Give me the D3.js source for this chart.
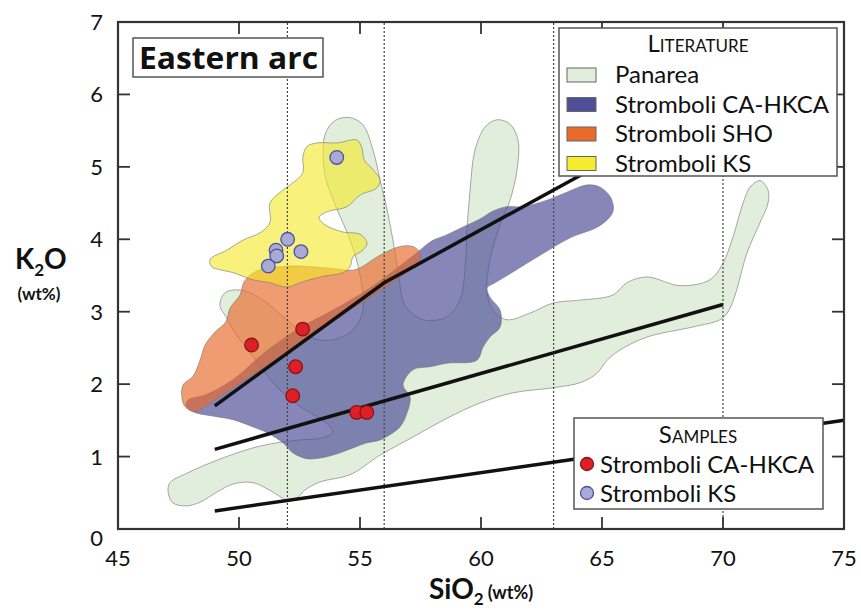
<!DOCTYPE html>
<html>
<head>
<meta charset="utf-8">
<script src="https://cdn.jsdelivr.net/npm/d3@7"></script>
<style>
  body { margin: 0; background: #fff; }
  svg { display: block; font-family: Lato, "Open Sans", sans-serif; }
</style>
</head>
<body>
<div id="chart"></div>
<script>
// K2O vs SiO2 - Eastern arc (Panarea / Stromboli)

const xTicks = [45, 50, 55, 60, 65, 70, 75];
const yTicks = [0, 1, 2, 3, 4, 5, 6, 7];
const dividers = [52, 56, 63, 70];

// series boundary lines [SiO2, K2O]
const lineSHO = [[49, 1.7], [56, 3.4], [66, 5.23]];
const lineHKCA = [[49, 1.1], [70, 3.1]];
const lineCA = [[49, 0.25], [75, 1.5]];

// literature fields, outlines as [SiO2, K2O]
const panarea = [
  [47.07, 0.51], [47.27, 0.36], [47.85, 0.32], [48.39, 0.37], [49.09, 0.51], [49.75, 0.62],
  [50.58, 0.64], [51.40, 0.51], [51.98, 0.40], [52.40, 0.43], [52.73, 0.54], [53.35, 0.65],
  [54.59, 0.75], [55.83, 1.02], [57.19, 1.27], [58.60, 1.53], [59.96, 1.74], [61.32, 1.88],
  [62.98, 1.95], [64.09, 2.02], [64.79, 2.15], [65.21, 2.33], [65.74, 2.47], [66.86, 2.65],
  [68.76, 2.79], [69.88, 2.89], [70.21, 3.00], [70.50, 3.23], [70.99, 3.81], [71.53, 4.23],
  [71.86, 4.50], [71.86, 4.68], [71.53, 4.81], [71.12, 4.72], [70.83, 4.50], [70.41, 4.03],
  [70.00, 3.67], [69.46, 3.44], [68.22, 3.36], [66.86, 3.48], [66.03, 3.40], [65.45, 3.23],
  [64.09, 3.16], [62.98, 3.12], [62.02, 2.98], [61.07, 2.89], [60.50, 3.02], [60.25, 3.26],
  [60.37, 3.72], [60.79, 4.20], [61.20, 4.54], [61.49, 4.96], [61.53, 5.37], [61.20, 5.59],
  [60.66, 5.65], [60.17, 5.55], [59.75, 5.23], [59.55, 4.68], [59.42, 4.13], [59.34, 3.58],
  [59.13, 3.16], [58.60, 2.93], [57.60, 2.89], [56.86, 3.09], [56.57, 3.58], [56.36, 3.99],
  [56.12, 4.41], [55.83, 4.82], [55.54, 5.23], [55.12, 5.58], [54.59, 5.68], [53.97, 5.64],
  [53.55, 5.44], [53.55, 4.89], [53.97, 4.48], [54.59, 3.99], [55.00, 3.51], [55.12, 3.02],
  [54.71, 2.75], [53.88, 2.61], [52.93, 2.65], [51.90, 2.91], [50.87, 3.19], [50.04, 3.30],
  [49.42, 3.26], [49.21, 3.09], [49.50, 2.91], [49.83, 2.71], [50.58, 2.38], [51.57, 1.96],
  [52.52, 1.69], [53.55, 1.48], [53.88, 1.34], [53.47, 1.26], [52.52, 1.23], [51.57, 1.19],
  [50.58, 1.12], [49.09, 0.95], [47.85, 0.77], [47.15, 0.64]
];

const stromboliHKCA = [
  [47.81, 1.70], [48.10, 1.62], [49.09, 1.55], [49.75, 1.51], [50.58, 1.41], [51.16, 1.33],
  [51.82, 1.19], [52.23, 1.05], [52.81, 0.97], [53.35, 0.98], [53.88, 1.02], [54.71, 1.12],
  [55.29, 1.19], [55.83, 1.23], [56.65, 1.41], [56.94, 1.60], [57.07, 1.82], [56.78, 1.99],
  [57.19, 2.20], [57.89, 2.24], [58.60, 2.29], [59.83, 2.33], [60.08, 2.51], [60.37, 2.65],
  [60.79, 2.79], [60.79, 3.02], [60.37, 3.20], [60.25, 3.33], [60.58, 3.40], [61.32, 3.55],
  [62.44, 3.78], [63.68, 4.02], [64.92, 4.19], [65.45, 4.38], [65.37, 4.57], [64.92, 4.72],
  [64.38, 4.75], [63.55, 4.65], [62.73, 4.54], [61.74, 4.45], [61.07, 4.45], [60.50, 4.39],
  [59.96, 4.28], [59.26, 4.17], [58.51, 4.05], [57.98, 3.98], [57.48, 3.85], [56.65, 3.63],
  [55.29, 3.30], [53.76, 3.00], [52.52, 2.78], [51.07, 2.44], [49.75, 2.06], [48.60, 1.85],
  [47.89, 1.78]
];

const stromboliSHO = [
  [47.64, 1.82], [47.69, 1.99], [48.10, 2.11], [48.39, 2.33], [48.60, 2.54], [49.01, 2.72],
  [49.46, 2.86], [49.63, 3.05], [50.04, 3.23], [50.21, 3.41], [50.66, 3.55], [52.11, 3.63],
  [53.76, 3.60], [54.79, 3.58], [55.83, 3.78], [56.65, 3.90], [57.19, 3.90], [57.48, 3.81],
  [57.40, 3.67], [56.65, 3.48], [55.41, 3.20], [53.76, 2.85], [52.11, 2.47], [50.45, 2.10],
  [49.01, 1.78], [48.18, 1.62], [47.77, 1.69]
];

const stromboliKS = [
  [52.81, 5.28], [53.22, 5.33], [54.05, 5.33], [54.88, 5.37], [55.08, 5.26], [55.17, 5.10],
  [55.54, 4.96], [55.83, 4.82], [55.70, 4.71], [55.00, 4.61], [54.46, 4.45], [53.64, 4.38],
  [53.31, 4.30], [53.55, 4.20], [54.30, 4.10], [55.00, 4.07], [55.29, 3.95], [55.12, 3.85],
  [54.71, 3.76], [54.59, 3.62], [54.30, 3.54], [53.35, 3.48], [52.52, 3.40], [51.98, 3.34],
  [51.28, 3.40], [50.58, 3.44], [49.75, 3.54], [49.21, 3.58], [48.88, 3.62], [48.80, 3.72],
  [49.50, 3.85], [50.17, 3.99], [50.87, 4.09], [51.28, 4.23], [51.28, 4.50], [51.82, 4.68],
  [52.23, 4.78], [52.64, 4.92], [52.64, 5.14]
];

// samples
const samplesHKCA = [[50.52, 2.54], [52.63, 2.76], [52.34, 2.24], [52.22, 1.84], [54.86, 1.61], [55.28, 1.61]];
const samplesKS = [[54.04, 5.13], [52.01, 4.00], [51.53, 3.85], [51.56, 3.77], [52.56, 3.83], [51.21, 3.63]];

const fields = [
  { name: 'Panarea', pts: panarea, fill: '#e1eedb', swatch: '#e1eedb', opacity: 1 },
  { name: 'Stromboli CA-HKCA', pts: stromboliHKCA, fill: '#4d4d96', swatch: '#4f4f98', opacity: 0.68 },
  { name: 'Stromboli SHO', pts: stromboliSHO, fill: '#e8682a', swatch: '#e86b2c', opacity: 0.66 },
  { name: 'Stromboli KS', pts: stromboliKS, fill: '#f4ea25', swatch: '#f6ec2e', opacity: 0.6 }
];
const samples = [
  { name: 'Stromboli CA-HKCA', pts: samplesHKCA, fill: '#dd2026', stroke: '#8a1515' },
  { name: 'Stromboli KS', pts: samplesKS, fill: '#aaaad6', stroke: '#4b51a3' }
];

const width = 861, height = 613;
const margin = { top: 22, right: 17, bottom: 84, left: 118 };

const svg = d3.select('#chart').append('svg')
  .attr('width', width)
  .attr('height', height);

const x = d3.scaleLinear().domain([45, 75]).range([margin.left, width - margin.right]);
const y = d3.scaleLinear().domain([0, 7]).range([height - margin.bottom, margin.top]);

const area = d3.line()
  .x(d => x(d[0]))
  .y(d => y(d[1]))
  .curve(d3.curveCatmullRomClosed.alpha(0.5));

// fields
svg.append('g')
  .selectAll('path')
  .data(fields)
  .join('path')
  .attr('d', d => area(d.pts))
  .attr('fill', d => d.fill)
  .attr('fill-opacity', d => d.opacity)
  .attr('stroke', '#777')
  .attr('stroke-opacity', 0.7)
  .attr('stroke-width', 0.9);

// dotted dividers
svg.append('g')
  .selectAll('line')
  .data(dividers)
  .join('line')
  .attr('x1', d => x(d)).attr('x2', d => x(d))
  .attr('y1', y(0)).attr('y2', y(7))
  .attr('stroke', '#444')
  .attr('stroke-width', 1.2)
  .attr('stroke-dasharray', '2,2');

// series lines
const seg = d3.line().x(d => x(d[0])).y(d => y(d[1]));
svg.append('g')
  .selectAll('path')
  .data([lineSHO, lineHKCA, lineCA])
  .join('path')
  .attr('d', seg)
  .attr('fill', 'none')
  .attr('stroke', '#111')
  .attr('stroke-width', 3.5);

// samples
samples.forEach(s => {
  svg.append('g')
    .selectAll('circle')
    .data(s.pts)
    .join('circle')
    .attr('cx', d => x(d[0]))
    .attr('cy', d => y(d[1]))
    .attr('r', 6.8)
    .attr('fill', s.fill)
    .attr('stroke', s.stroke)
    .attr('stroke-width', 1.3);
});

// frame and inner ticks
const tickLen = 12;
const axisColor = '#333';
svg.append('rect')
  .attr('x', x(45)).attr('y', y(7))
  .attr('width', x(75) - x(45)).attr('height', y(0) - y(7))
  .attr('fill', 'none')
  .attr('stroke', axisColor)
  .attr('stroke-width', 2.2);

const ticks = svg.append('g').attr('stroke', axisColor).attr('stroke-width', 1.8);
xTicks.slice(1, -1).forEach(t => {
  ticks.append('line').attr('x1', x(t)).attr('x2', x(t)).attr('y1', y(0)).attr('y2', y(0) - tickLen);
  ticks.append('line').attr('x1', x(t)).attr('x2', x(t)).attr('y1', y(7)).attr('y2', y(7) + tickLen);
});
yTicks.slice(1, -1).forEach(t => {
  ticks.append('line').attr('x1', x(45)).attr('x2', x(45) + tickLen).attr('y1', y(t)).attr('y2', y(t));
  ticks.append('line').attr('x1', x(75)).attr('x2', x(75) - tickLen).attr('y1', y(t)).attr('y2', y(t));
});

// tick labels
svg.append('g')
  .selectAll('text')
  .data(xTicks)
  .join('text')
  .attr('x', d => x(d))
  .attr('y', y(0) + 37)
  .attr('text-anchor', 'middle')
  .attr('font-size', 22)
  .attr('fill', '#111')
  .text(d => d);

svg.append('g')
  .selectAll('text')
  .data(yTicks)
  .join('text')
  .attr('x', x(45) - 15)
  .attr('y', d => y(d) + (d === 0 ? 17 : 8))
  .attr('text-anchor', 'end')
  .attr('font-size', 22)
  .attr('fill', '#111')
  .text(d => d);

// axis titles
const yTitle = svg.append('text')
  .attr('x', 15).attr('y', 269)
  .attr('font-size', 28).attr('font-weight', 700).attr('fill', '#111');
yTitle.append('tspan').text('K');
yTitle.append('tspan').attr('font-size', 17).attr('dy', 7).text('2');
yTitle.append('tspan').attr('dy', -7).text('O');
svg.append('text')
  .attr('x', 39).attr('y', 300)
  .attr('text-anchor', 'middle')
  .attr('font-size', 17).attr('font-weight', 700).attr('fill', '#111')
  .text('(wt%)');

const xTitle = svg.append('text')
  .attr('x', 429).attr('y', 599)
  .attr('font-size', 28).attr('font-weight', 700).attr('fill', '#111');
xTitle.append('tspan').text('SiO');
xTitle.append('tspan').attr('font-size', 17).attr('dy', 6).text('2');
xTitle.append('tspan').attr('font-size', 18).attr('dy', -6).attr('dx', 4).text('(wt%)');

// panel label
svg.append('rect')
  .attr('x', 133).attr('y', 38).attr('width', 190).attr('height', 39)
  .attr('fill', '#fff').attr('stroke', '#555').attr('stroke-width', 1.5);
svg.append('text')
  .attr('x', 139).attr('y', 69)
  .attr('font-family', '"Open Sans", Lato, sans-serif')
  .attr('font-size', 31).attr('font-weight', 700).attr('fill', '#111')
  .attr('textLength', 179).attr('lengthAdjust', 'spacingAndGlyphs')
  .text('Eastern arc');

// literature legend
const lit = svg.append('g');
lit.append('rect')
  .attr('x', 559).attr('y', 28).attr('width', 278).attr('height', 148)
  .attr('fill', '#fff').attr('stroke', '#555').attr('stroke-width', 1.5);
const litTitle = lit.append('text')
  .attr('x', 698).attr('y', 52).attr('text-anchor', 'middle').attr('fill', '#111');
litTitle.append('tspan').attr('font-size', 24).text('L');
litTitle.append('tspan').attr('font-size', 17).text('ITERATURE');
fields.forEach((f, i) => {
  const cy = 75 + i * 29.5;
  lit.append('rect')
    .attr('x', 567).attr('y', cy - 7).attr('width', 29).attr('height', 14)
    .attr('fill', f.swatch).attr('stroke', '#666').attr('stroke-width', 1);
  lit.append('text')
    .attr('x', 615).attr('y', cy + 8)
    .attr('font-size', 24).attr('fill', '#111')
    .text(f.name);
});

// samples legend
const sam = svg.append('g');
sam.append('rect')
  .attr('x', 574).attr('y', 418).attr('width', 249).attr('height', 91)
  .attr('fill', '#fff').attr('stroke', '#555').attr('stroke-width', 1.5);
const samTitle = sam.append('text')
  .attr('x', 698).attr('y', 443).attr('text-anchor', 'middle').attr('fill', '#111');
samTitle.append('tspan').attr('font-size', 24).text('S');
samTitle.append('tspan').attr('font-size', 17).text('AMPLES');
samples.forEach((s, i) => {
  const cy = 464 + i * 29;
  sam.append('circle')
    .attr('cx', 587).attr('cy', cy).attr('r', 6.5)
    .attr('fill', s.fill).attr('stroke', s.stroke).attr('stroke-width', 1.3);
  sam.append('text')
    .attr('x', 600).attr('y', cy + 9)
    .attr('font-size', 24).attr('fill', '#111')
    .text(s.name);
});
</script>
</body>
</html>
